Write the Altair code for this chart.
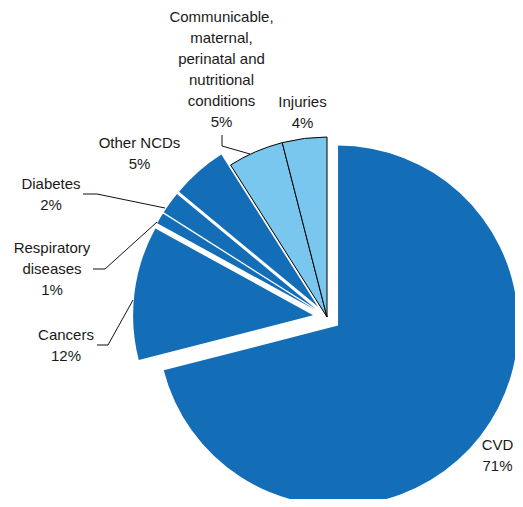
import math
import altair as alt
import pandas as pd

# ---- data (clockwise from 12 o'clock) ----
categories = ["CVD", "Cancers", "Respiratory diseases", "Diabetes", "Other NCDs",
              "Communicable, maternal, perinatal and nutritional conditions", "Injuries"]
shares = [71, 12, 1, 2, 5, 5, 4]
groups = ["NCD", "NCD", "NCD", "NCD", "NCD", "Other", "Other"]
label_lines = [["CVD"], ["Cancers"], ["Respiratory", "diseases"], ["Diabetes"], ["Other NCDs"],
               ["Communicable,", "maternal,", "perinatal and", "nutritional", "conditions"],
               ["Injuries"]]

# ---- layout / style ----
CX, CY, R = 319, 309, 180
EXPLODE_NCD = 14
DARK, LIGHT = "#136db7", "#79c6ee"
FS = 15
# centre of first text line (chart pixels)
label_pos = [(489.5, 437), (58, 327), (44, 240), (43, 176), (131.5, 135), (213.5, 9), (294.5, 94)]
label_lh = [21, 21, 21, 21, 21, 20.6, 21]
leaders = {
    "Cancers": [(97, 345), (108, 345), (133, 300)],
    "Respiratory diseases": [(93, 269), (105, 269), (157, 222)],
    "Diabetes": [(83, 194), (97, 194), (165, 208)],
    "Communicable": [(222, 135), (222, 146), (250, 154)],
}

df = pd.DataFrame({"category": categories, "share": shares, "group": groups,
                   "order": list(range(len(categories)))})

arcs = alt.Chart(df).transform_window(
    cum="sum(share)", sort=[alt.SortField("order")]
).transform_calculate(
    start="datum.cum - datum.share",
    mid="(datum.cum - datum.share / 2) / 100 * 2 * PI",
    ex=f"datum.group === 'NCD' ? {EXPLODE_NCD} : 0",
).transform_calculate(
    px=f"{CX} + datum.ex * sin(datum.mid)",
    py=f"{CY} - datum.ex * cos(datum.mid)",
).mark_arc(outerRadius=R, stroke="black").encode(
    theta=alt.Theta("start:Q", scale=alt.Scale(domain=[0, 100], range=[0, 2 * math.pi])),
    theta2="cum:Q",
    x=alt.X("px:Q", scale=None),
    y=alt.Y("py:Q", scale=None),
    color=alt.Color("group:N", scale=alt.Scale(domain=["NCD", "Other"], range=[DARK, LIGHT]), legend=None),
    strokeWidth=alt.condition("datum.group === 'Other'", alt.value(1), alt.value(0)),
)

lab_df = pd.DataFrame({
    "text": ["\n".join(lines + [f"{v}%"]) for lines, v in zip(label_lines, shares)],
    "tx": [p[0] for p in label_pos],
    "ty": [p[1] + round(0.36 * FS) for p in label_pos],
})
labels = alt.Chart(lab_df).mark_text(
    align="center", baseline="alphabetic", lineBreak="\n", lineHeight=21,
    fontSize=FS, font="Liberation Sans", color="#1a1a1a"
).encode(
    x=alt.X("tx:Q", scale=None), y=alt.Y("ty:Q", scale=None), text="text:N"
)

rows = []
for name, pts in leaders.items():
    for k, (x, y) in enumerate(pts):
        rows.append({"id": name, "k": k, "lx": x - 8, "ly": y - 8})
lines = alt.Chart(pd.DataFrame(rows)).mark_line(color="#111111", strokeWidth=1).encode(
    x=alt.X("lx:Q", scale=None), y=alt.Y("ly:Q", scale=None),
    detail="id:N", order="k:O"
)

chart = alt.layer(arcs, lines, labels).properties(
    width=507, height=491, autosize="none", padding=0
).configure_view(stroke=None)

chart.save("out.html", embed_options={"renderer": "svg", "actions": False})
